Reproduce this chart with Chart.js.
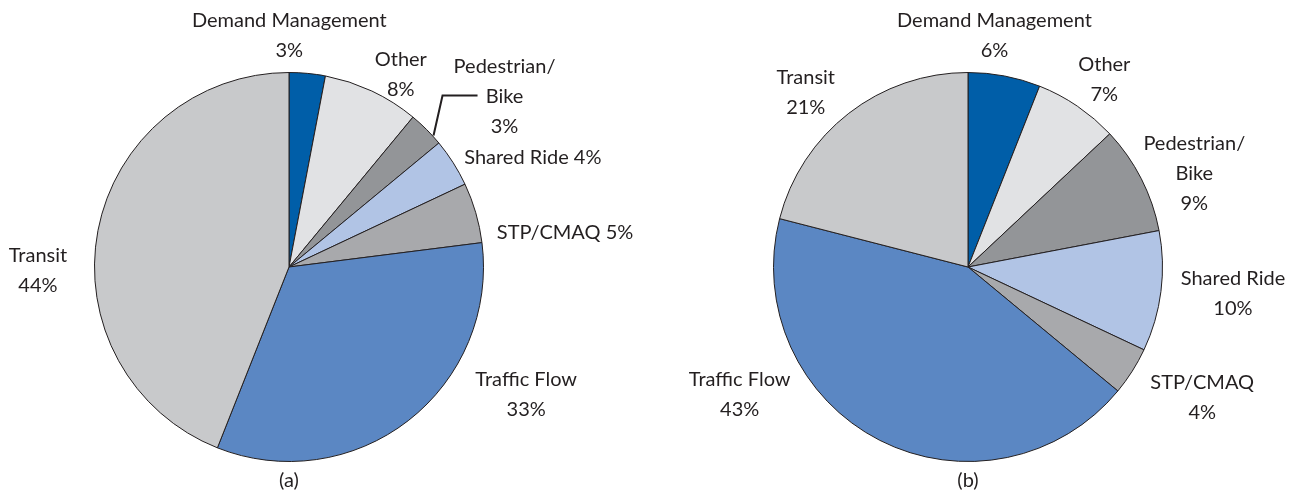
<!DOCTYPE html>
<html>
<head>
<meta charset="utf-8">
<script src="https://cdn.jsdelivr.net/npm/chart.js@4"></script>
<style>
  html, body { margin: 0; padding: 0; background: #fff; }
  #wrap { position: relative; width: 1300px; height: 493px; overflow: hidden; }
  .c { position: absolute; top: 0; }
</style>
</head>
<body>
<div id="wrap">
  <canvas id="a" class="c" width="679" height="493" style="left:0px"></canvas>
  <canvas id="b" class="c" width="621" height="493" style="left:679px"></canvas>
</div>
<script>
// ---- data ----
const categories = ["Demand Management", "Other", "Pedestrian/Bike", "Shared Ride", "STP/CMAQ", "Traffic Flow", "Transit"];
const labelNames = [["Demand Management"], ["Other"], ["Pedestrian/", "Bike"], ["Shared Ride"], ["STP/CMAQ"], ["Traffic Flow"], ["Transit"]];
const valuesA = [3, 8, 3, 4, 5, 33, 44];
const valuesB = [6, 7, 9, 10, 4, 43, 21];
const captions = ["(a)", "(b)"];

// ---- styles ----
const colors = ["#005ea8", "#e1e2e4", "#939598", "#b1c4e5", "#a8a9ac", "#5b87c3", "#c8c9cb"];
const FONT = "20px Lato, 'Open Sans', sans-serif";
const TEXT = "#231f20";
const LINE_H = 30;

// label placement (offset from slice's outer edge at mid angle)
const placeA = [
  {dx: -18, dy: -38, inline: false, align: "center"},
  {dx: 29, dy: -16, inline: false, align: "center"},
  {dx: 78, dy: -33, inline: false, align: "center", leader: [[7, 6], [16, -34], [51, -34]]},
  {dx: 11, dy: -5, inline: true, align: "left"},
  {dx: 21, dy: 20, inline: true, align: "left"},
  {dx: 118, dy: -26, inline: false, align: "center"},
  {dx: -60, dy: 40, inline: false, align: "center"}
];
const placeB = [
  {dx: -10, dy: -40, inline: false, align: "center"},
  {dx: 27, dy: -27, inline: false, align: "center"},
  {dx: 53, dy: -5, inline: false, align: "center"},
  {dx: 72, dy: 2, inline: false, align: "center"},
  {dx: 70, dy: 26, inline: false, align: "center"},
  {dx: -140, dy: -46, inline: false, align: "center"},
  {dx: -43, dy: -21, inline: false, align: "center"}
];

const labelPlugin = {
  id: "sliceLabels",
  afterDraw(chart, args, opts) {
    const ctx = chart.ctx;
    const meta = chart.getDatasetMeta(0);
    const data = chart.data.datasets[0].data;
    ctx.save();
    ctx.font = FONT;
    ctx.fillStyle = TEXT;
    ctx.textBaseline = "middle";
    meta.data.forEach((arc, i) => {
      const p = arc.getProps(["x", "y", "startAngle", "endAngle", "outerRadius"], true);
      const mid = (p.startAngle + p.endAngle) / 2;
      const ex = p.x + p.outerRadius * Math.cos(mid);
      const ey = p.y + p.outerRadius * Math.sin(mid);
      const pl = opts.place[i];
      const pct = data[i] + "%";
      let lines = labelNames[i].slice();
      if (pl.inline) {
        lines[lines.length - 1] = lines[lines.length - 1] + " " + pct;
      } else {
        lines.push(pct);
      }
      const cx = ex + pl.dx, cy = ey + pl.dy;
      ctx.textAlign = pl.align;
      const top = cy - (lines.length - 1) * LINE_H / 2;
      lines.forEach((ln, k) => ctx.fillText(ln, cx, top + k * LINE_H));
      if (pl.leader) {
        ctx.strokeStyle = TEXT;
        ctx.lineWidth = 2;
        ctx.beginPath();
        pl.leader.forEach((pt, k) => {
          const x = ex + pt[0], y = ey + pt[1];
          if (k === 0) ctx.moveTo(x, y); else ctx.lineTo(x, y);
        });
        ctx.stroke();
      }
    });
    // caption
    const ca = chart.chartArea;
    ctx.textAlign = "center";
    ctx.fillText(opts.caption, (ca.left + ca.right) / 2, ca.bottom + 19);
    ctx.restore();
  }
};

function makePie(id, values, place, caption, padRight) {
  return new Chart(document.getElementById(id), {
    type: "pie",
    data: {
      labels: categories,
      datasets: [{
        data: values,
        backgroundColor: colors,
        borderColor: "#231f20",
        borderWidth: 1
      }]
    },
    options: {
      responsive: false,
      animation: false,
      layout: { padding: { top: 72, bottom: 31, left: 94, right: padRight } },
      plugins: {
        legend: { display: false },
        tooltip: { enabled: false },
        sliceLabels: { place: place, caption: caption }
      }
    },
    plugins: [labelPlugin]
  });
}

makePie("a", valuesA, placeA, captions[0], 195);
makePie("b", valuesB, placeB, captions[1], 137);
</script>
</body>
</html>
